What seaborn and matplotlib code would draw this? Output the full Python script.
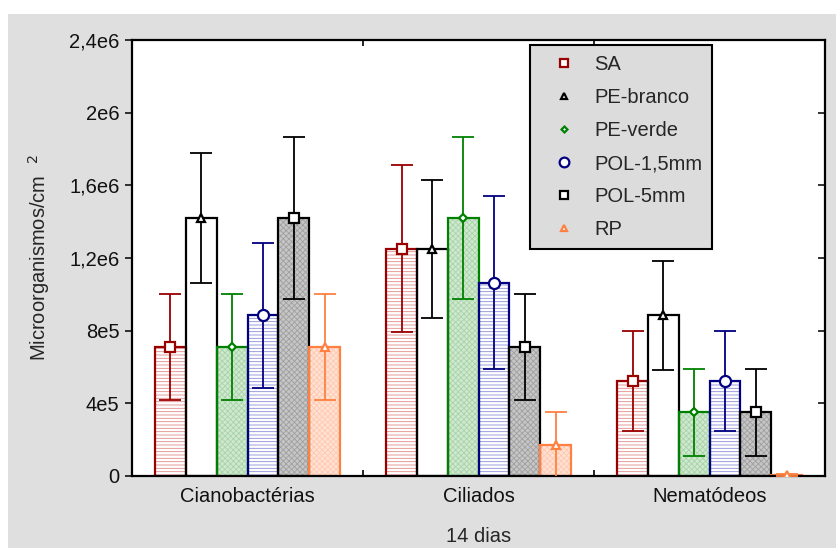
import matplotlib
matplotlib.use("Agg")
import matplotlib.pyplot as plt
import seaborn as sns
import pandas as pd
from matplotlib.patches import Rectangle
from matplotlib.lines import Line2D

# ---- data -------------------------------------------------------------
categories = ["Cianobactérias", "Ciliados", "Nematódeos"]
treatments = ["SA", "PE-branco", "PE-verde", "POL-1,5mm", "POL-5mm", "RP"]

sa_mean = [7.1e5, 1.25e6, 5.25e5]
sa_err = [2.9e5, 4.6e5, 2.75e5]
pe_branco_mean = [1.42e6, 1.25e6, 8.85e5]
pe_branco_err = [3.6e5, 3.8e5, 3.0e5]
pe_verde_mean = [7.1e5, 1.42e6, 3.5e5]
pe_verde_err = [2.9e5, 4.45e5, 2.4e5]
pol15_mean = [8.85e5, 1.065e6, 5.25e5]
pol15_err = [4.0e5, 4.75e5, 2.75e5]
pol5_mean = [1.42e6, 7.1e5, 3.5e5]
pol5_err = [4.45e5, 2.9e5, 2.4e5]
rp_mean = [7.1e5, 1.7e5, 5.0e3]
rp_err = [2.9e5, 1.8e5, 5.0e3]

means = [sa_mean, pe_branco_mean, pe_verde_mean, pol15_mean, pol5_mean, rp_mean]
errs = [sa_err, pe_branco_err, pe_verde_err, pol15_err, pol5_err, rp_err]

y_ticks = [0, 4e5, 8e5, 1.2e6, 1.6e6, 2e6, 2.4e6]
y_ticklabels = ["0", "4e5", "8e5", "1,2e6", "1,6e6", "2e6", "2,4e6"]

# ---- styles per treatment --------------------------------------------
edge_colors = ["#990000", "#000000", "#008000", "#000080", "#000000", "#ff8040"]
face_colors = ["#ffffff", "#ffffff", "#cfe8cf", "#ffffff", "#c6c6c6", "#ffe2d4"]
hatch_colors = ["#e08a8a", "#ffffff", "#a8d4a8", "#8c8cd8", "#a0a0a0", "#ffc8b0"]
hatches = ["-----", "", "xxxxxx", "-----", "xxxxxx", "xxxxxx"]
markers = ["s", "^", "D", "o", "s", "^"]
marker_sizes = [7, 6, 4, 8, 7, 6]

rows = []
for t, m in zip(treatments, means):
    for c, v in zip(categories, m):
        rows.append({"grupo": c, "tratamento": t, "valor": v})
df = pd.DataFrame(rows)

sns.set_theme(style="white")
plt.rcParams["font.family"] = ["Liberation Sans", "DejaVu Sans"]
plt.rcParams["hatch.linewidth"] = 0.6

fig = plt.figure(figsize=(8.37, 5.48), dpi=100)
fig.patch.set_facecolor("white")
fig.patches.append(Rectangle((8 / 837, 0), 1 - 8 / 837, 1 - 14 / 548,
                             transform=fig.transFigure, facecolor="#dfdfdf",
                             edgecolor="none", zorder=-10))

ax = fig.add_axes([0.1577, 0.1314, 0.8280, 0.7956])
ax.set_facecolor("white")

sns.barplot(data=df, x="grupo", y="valor", hue="tratamento",
            order=categories, hue_order=treatments, errorbar=None,
            width=0.8, legend=False, ax=ax, palette=face_colors,
            saturation=1)

bar_containers = list(ax.containers)
for i, cont in enumerate(bar_containers):
    xs = []
    for bar in cont.patches:
        bar.set_facecolor(face_colors[i])
        bar.set_hatch(hatches[i])
        bar.set_edgecolor(hatch_colors[i])
        bar.set_linewidth(0.5)
        bar.set_zorder(1)
        ax.add_patch(Rectangle(bar.get_xy(), bar.get_width(), bar.get_height(),
                               fill=False, edgecolor=edge_colors[i],
                               linewidth=1.6, zorder=2))
        xs.append(bar.get_x() + bar.get_width() / 2)
    ax.errorbar(xs, means[i], yerr=errs[i], fmt="none", ecolor=edge_colors[i],
                elinewidth=1.3, capsize=8, capthick=1.3, zorder=3)
    ax.plot(xs, means[i], linestyle="none", marker=markers[i],
            markersize=marker_sizes[i], markerfacecolor="white",
            markeredgecolor=edge_colors[i], markeredgewidth=1.6, zorder=4)

# ---- axes -------------------------------------------------------------
ax.set_xlim(-0.5, 2.5)
ax.set_ylim(0, 2.4e6)
ax.set_yticks(y_ticks)
ax.set_yticklabels(y_ticklabels)
ax.set_xticks(range(len(categories)))
ax.set_xticklabels(categories)
ax.set_xticks([0.5, 1.5], minor=True)
ax.tick_params(axis="x", which="major", length=0, labelsize=14.5, pad=8,
               colors="#111111")
ax.tick_params(axis="x", which="minor", direction="in", length=4, width=1.2,
               top=True, bottom=True, color="black")
ax.tick_params(axis="y", which="major", left=True, right=True, length=5,
               width=1.2, labelsize=14.5, colors="#111111", pad=4)
ax.yaxis.set_tick_params(which="major", direction="out")
for t in ax.yaxis.get_major_ticks():
    t.tick2line.set_marker(matplotlib.lines.TICKLEFT)
ax.grid(False)
for s in ax.spines.values():
    s.set_visible(True)
    s.set_color("black")
    s.set_linewidth(1.6)

ax.set_ylabel("Microorganismos/cm  $^{2}$", fontsize=14.5, labelpad=12)
ax.set_xlabel("14 dias", fontsize=14.5, labelpad=15)

handles = [Line2D([], [], linestyle="none", marker=markers[i],
                  markersize=marker_sizes[i] - 1, markerfacecolor="white",
                  markeredgecolor=edge_colors[i], markeredgewidth=1.6)
           for i in range(len(treatments))]
leg = ax.legend(handles, treatments, loc="upper left",
                bbox_to_anchor=(0.574, 0.989), fontsize=14.5,
                frameon=True, fancybox=False, framealpha=1,
                facecolor="#dcdcdc", edgecolor="black",
                handlelength=2.4, handletextpad=0.3, borderpad=0.5,
                labelspacing=0.70, borderaxespad=0)
leg.get_frame().set_linewidth(1.5)
leg.set_zorder(10)

fig.savefig("out.png", dpi=100)
